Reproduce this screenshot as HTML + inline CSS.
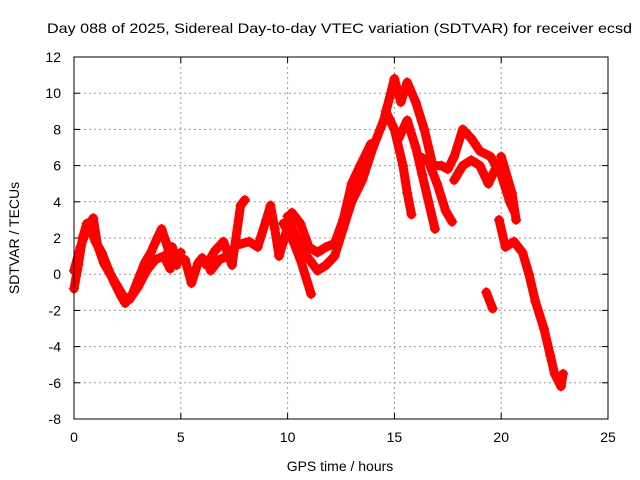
<!DOCTYPE html>
<html><head><meta charset="utf-8"><style>
body{margin:0;background:#fff}
svg{display:block;font-family:"Liberation Sans",sans-serif}
</style></head><body>
<svg id="c" width="640" height="480">
<text x="47" y="33" font-size="14" textLength="585" lengthAdjust="spacingAndGlyphs">Day 088 of 2025, Sidereal Day-to-day VTEC variation (SDTVAR) for receiver ecsd</text>
<text x="340" y="471" font-size="14" text-anchor="middle">GPS time / hours</text>
<text x="19" y="238" font-size="14" text-anchor="middle" transform="rotate(-90 19 238)">SDTVAR / TECUs</text>
<g id="grid"></g><g id="data"></g>
<rect x="74" y="57" width="534" height="362" fill="none" stroke="#000" stroke-width="1"/>
</svg>
<script>
const xTicks=[0,5,10,15,20,25];
const yTicks=[-8,-6,-4,-2,0,2,4,6,8,10,12];
const trackA=[[0,-0.8],[0.2,0.5],[0.4,2],[0.6,2.8],[0.8,2.5],[1.0,1.8],[1.3,1.2],[1.6,0.3],[1.9,-0.5],[2.2,-1.2],[2.4,-1.6],[2.7,-1.2],[3.0,-0.3],[3.3,0.6],[3.6,1.2],[3.9,2],[4.1,2.5],[4.3,1.8],[4.5,1.0]];
const trackB=[[0,0.2],[0.3,1.5],[0.6,2.5],[0.9,3.1],[1.1,1.6],[1.4,0.6],[1.7,0],[2.0,-0.6],[2.3,-1.2],[2.6,-1.4],[3.0,-0.7],[3.4,0.2],[3.8,0.8],[4.2,1],[4.5,0.3],[4.6,1.5],[4.8,0.5],[5.0,1.2]];
const trackC=[[5.2,0.8],[5.5,-0.5],[5.8,0.6],[6.0,0.9],[6.2,0.5],[6.6,1.3],[7.0,1.8],[7.4,0.5],[7.8,3.8],[8.0,4.1]];
const trackD=[[6.4,0.2],[6.8,0.8],[7.2,1],[7.6,1.6],[8.2,1.8],[8.6,1.5],[9.0,3],[9.2,3.8],[9.4,2.5],[9.6,1],[9.8,1.8],[10.2,3.4],[10.6,2.8],[11.0,1.5],[11.4,1.2],[11.8,1.5],[12.2,1.7],[12.6,3],[13,5],[13.4,6],[13.9,7.2]];
const trackE=[[9.8,2.8],[10.2,2],[10.6,0.8],[11.1,-1.1]];
const trackF=[[10,3.2],[10.4,2],[10.9,1],[11.4,0.2],[11.8,0.5],[12.2,1],[12.6,2.5],[13,4],[13.5,5.2],[14,7],[14.5,8.5],[15,10.8],[15.3,9.5],[15.6,10.6],[16,9.5],[16.4,8],[16.8,6],[17.2,6],[17.5,5.8],[17.8,6.5],[18.2,8],[18.6,7.5],[19,6.8],[19.5,6.5],[20,5.5],[20.4,4],[20.6,3.5]];
const trackG=[[14.8,8.5],[15.2,7.5],[15.6,8.5],[16,7],[16.3,5.5],[16.6,4],[16.9,2.5]];
const trackH=[[14.6,9],[15,8],[15.4,6],[15.6,4.5],[15.8,3.3]];
const trackI=[[16.2,6.5],[16.6,6.2],[17,5],[17.4,3.5],[17.7,2.9]];
const trackJ=[[17.8,5.2],[18.2,6],[18.6,6.3],[19,6],[19.4,5],[19.8,6]];
const trackK=[[20.0,6.5],[20.5,4.5],[20.7,3.0]];
const trackL=[[19.9,3],[20.2,1.5],[20.6,1.8],[21.0,1.2],[21.3,0],[21.6,-1.5],[22,-3],[22.3,-4.5],[22.5,-5.5],[22.8,-6.2],[22.9,-5.5]];
const trackM=[[19.3,-1],[19.6,-1.9]];
const tracks=[trackA,trackB,trackC,trackD,trackE,trackF,trackG,trackH,trackI,trackJ,trackK,trackL,trackM];
const X=h=>74+h*(534/25), Y=v=>57+(12-v)*(362/20);
const NS='http://www.w3.org/2000/svg';
const g=document.getElementById('grid'), d=document.getElementById('data');
function mk(tag,attrs,parent){const e=document.createElementNS(NS,tag);for(const k in attrs)e.setAttribute(k,attrs[k]);parent.appendChild(e);return e;}
xTicks.forEach(t=>{const x=X(t);
 if(t>0&&t<25){const l=mk('line',{x1:x,x2:x,y1:57,y2:419,stroke:'#999','stroke-dasharray':'2,3'},g);
 
 }
 mk('line',{x1:x,x2:x,y1:419,y2:413,stroke:'#000'},g);mk('line',{x1:x,x2:x,y1:57,y2:63,stroke:'#000'},g);
 const tx=mk('text',{x:x,y:442,'font-size':14,'text-anchor':'middle'},g);tx.textContent=t;
 
 });
yTicks.forEach(t=>{const y=Y(t);
 if(t>-8&&t<12){const l=mk('line',{x1:74,x2:608,y1:y,y2:y,stroke:'#999','stroke-dasharray':'2,3'},g);
 
 }
 mk('line',{x1:74,x2:80,y1:y,y2:y,stroke:'#000'},g);mk('line',{x1:608,x2:602,y1:y,y2:y,stroke:'#000'},g);
 const tx=mk('text',{x:61,y:y+5,'font-size':14,'text-anchor':'end'},g);tx.textContent=t;
 
 });
tracks.forEach(tr=>{
 const p=mk('polyline',{points:tr.map(q=>X(q[0])+','+Y(q[1])).join(' '),fill:'none',stroke:'#f00','stroke-width':9,'stroke-linejoin':'round','stroke-linecap':'round'},d);
 
 
 tr.forEach(q=>{const x=X(q[0]),y=Y(q[1]);
  const m=mk('path',{d:`M${x-5},${y}H${x+5}M${x},${y-5}V${y+5}`,stroke:'#f00','stroke-width':1.5},d);
  
  });
});
</script>
</body></html>
